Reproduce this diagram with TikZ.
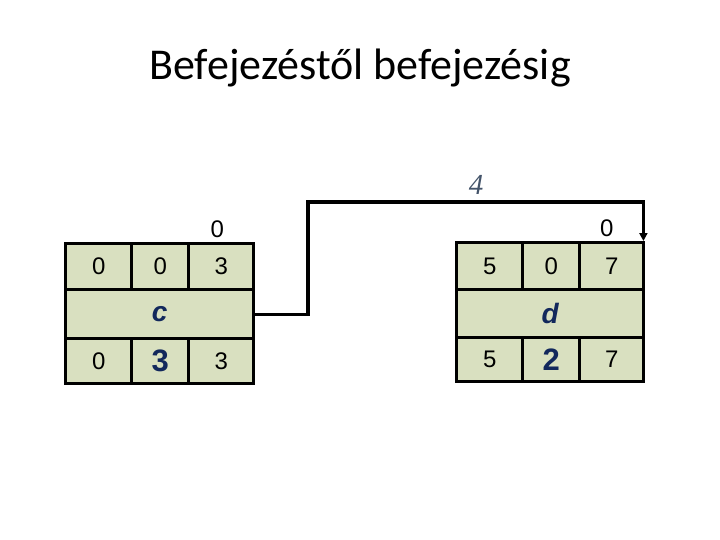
\documentclass[tikz,border=0pt]{standalone}
\usepackage{fontspec}
\setmainfont{Carlito}
\newfontfamily\numfont{Liberation Sans}
\newfontfamily\durfont{Liberation Serif}
\usetikzlibrary{arrows.meta}
\definecolor{cellgreen}{RGB}{217,224,192}
\definecolor{namenavy}{RGB}{18,40,92}
\definecolor{durgray}{RGB}{68,84,106}
\tikzset{
	cell/.style={draw,line width=3.4pt,fill=cellgreen,anchor=north west,inner sep=0pt,
		font=\numfont\fontsize{24}{28}\selectfont},
	bignum/.style={font=\numfont\bfseries\fontsize{31}{36}\selectfont,text=namenavy},
	actname/.style={font=\numfont\bfseries\itshape\fontsize{28}{34}\selectfont,text=namenavy},
	lag/.style={font=\numfont\fontsize{24}{28}\selectfont,anchor=south},
	conn/.style={line width=3.4pt,-{Triangle[width=8pt,length=8pt]}},
}
\begin{document}
\begin{tikzpicture}[x=1pt,y=-1pt]
	\useasboundingbox (0,0) rectangle (720,540);
	\node (title) at (360,68) {\fontsize{44}{52}\selectfont Befejezéstől befejezésig};

	% activity c
	\node[cell,minimum width=66pt,minimum height=46pt] (c-es) at (64,242) {0};
	\node[cell,minimum width=57pt,minimum height=46pt] (c-slack) at (130,242) {0};
	\node[cell,minimum width=65pt,minimum height=46pt] (c-ef) at (187,242) {3};
	\node[cell,minimum width=188pt,minimum height=49pt,actname] (c-name) at (64,288) {c};
	\node[cell,minimum width=66pt,minimum height=45pt] (c-ls) at (64,337) {0};
	\node[cell,minimum width=57pt,minimum height=45pt,bignum] (c-dur) at (130,337) {3};
	\node[cell,minimum width=65pt,minimum height=45pt] (c-lf) at (187,337) {3};
	\node[lag] (c-free) at ([xshift=-4pt,yshift=1pt]c-ef.north) {0};

	% activity d
	\node[cell,minimum width=66pt,minimum height=47pt] (d-es) at (455,241) {5};
	\node[cell,minimum width=57pt,minimum height=47pt] (d-slack) at (521,241) {0};
	\node[cell,minimum width=64pt,minimum height=47pt] (d-ef) at (578,241) {7};
	\node[cell,minimum width=187pt,minimum height=48pt,actname] (d-name) at (455,288) {d};
	\node[cell,minimum width=66pt,minimum height=44pt] (d-ls) at (455,336) {5};
	\node[cell,minimum width=57pt,minimum height=44pt,bignum] (d-dur) at (521,336) {2};
	\node[cell,minimum width=64pt,minimum height=44pt] (d-lf) at (578,336) {7};
	\node[lag] (d-free) at ([xshift=-5pt,yshift=1pt]d-ef.north) {0};

	% finish-to-finish link
	\coordinate (bend) at (308,202);
	\draw[conn] (c-name.east) -| (bend) -| ([xshift=-2pt]d-ef.north east);
	\node[font=\durfont\itshape\fontsize{29}{34}\selectfont,text=durgray] (lag4) at (476,185) {4};
\end{tikzpicture}
\end{document}
